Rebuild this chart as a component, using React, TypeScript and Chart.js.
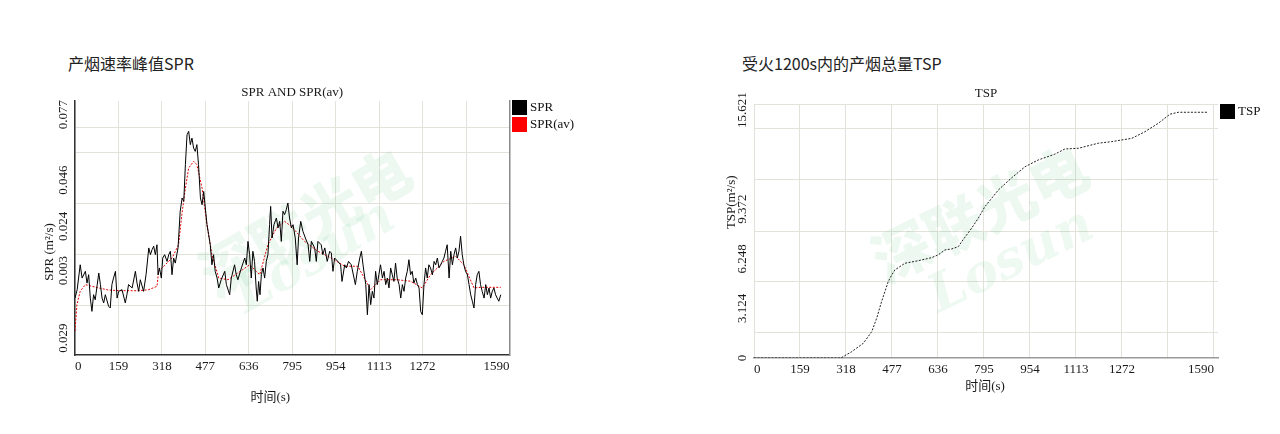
import React, { useEffect, useRef } from "react";
import { Chart, registerables } from "chart.js";

Chart.register(...registerables);

// ---------- shared axis data ----------
const X_TICKS = [0, 159, 318, 477, 636, 795, 954, 1113, 1272, 1431, 1590];
const X_TICK_LABELS = ["0", "159", "318", "477", "636", "795", "954", "1113", "1272", "", "1590"];

// ---------- SPR chart ----------
const SPR_TIME = [
  0, 8, 19, 26, 38, 44, 50, 56, 62, 68, 74, 87, 93, 99, 105, 111, 123, 129, 135, 141, 148, 154, 160, 172, 184, 190, 196,
  209, 221, 227, 233, 239, 251, 260, 270, 276, 282, 288, 294, 300, 304, 309, 316, 321, 328, 337, 343, 349, 355, 361, 367,
  377, 385, 392, 398, 404, 410, 416, 422, 428, 434, 440, 446, 452, 459, 465, 471, 477, 483, 489, 495, 501, 507, 513, 520,
  526, 535, 548, 554, 566, 572, 584, 590, 596, 609, 621, 627, 633, 639, 645, 651, 657, 663, 667, 672, 677, 682, 688, 694,
  700, 706, 712, 716, 721, 728, 737, 743, 749, 755, 761, 767, 773, 779, 785, 792, 798, 806, 813, 818, 826, 834, 843, 853,
  859, 865, 877, 883, 889, 901, 907, 914, 923, 932, 938, 944, 950, 962, 972, 977, 987, 993, 1001, 1011, 1026, 1033, 1042,
  1048, 1054, 1064, 1070, 1076, 1082, 1088, 1094, 1100, 1106, 1112, 1118, 1125, 1131, 1137, 1143, 1149, 1155, 1161, 1167,
  1173, 1179, 1186, 1192, 1198, 1204, 1210, 1216, 1222, 1228, 1234, 1240, 1247, 1253, 1259, 1265, 1271, 1277, 1283, 1289,
  1295, 1301, 1308, 1314, 1320, 1326, 1332, 1338, 1344, 1350, 1356, 1362, 1369, 1375, 1381, 1387, 1393, 1399, 1405, 1411,
  1417, 1423, 1429, 1436, 1442, 1448, 1454, 1460, 1466, 1472, 1478, 1484, 1490, 1497, 1503, 1509, 1515, 1521, 1527, 1533,
  1539, 1545, 1551, 1558,
];
const SPR_VALUES = [
  -0.01, -0.006, 0.0058, -0.0005, 0.0027, -0.0029, 0.0011, -0.01, -0.0163, -0.0084, -0.0108, 0.0019, -0.0036, -0.01,
  -0.0123, -0.0084, -0.0139, -0.0147, -0.0036, -0.0005, 0.0027, -0.01, -0.0068, -0.006, -0.0123, -0.0084, -0.0036,
  -0.0052, 0.0027, -0.0029, -0.0068, -0.0013, -0.0068, 0.0011, 0.0138, 0.0106, 0.013, 0.0146, 0.0106, 0.0153, 0.0011,
  0.0043, -0.0005, 0.009, 0.0106, 0.0074, 0.0106, 0.0122, 0.0011, 0.009, 0.0066, 0.0138, 0.0312, 0.0375, 0.0359, 0.0533,
  0.0675, 0.0691, 0.0628, 0.0659, 0.0612, 0.0596, 0.0628, 0.0533, 0.0375, 0.0343, 0.0406, 0.0327, 0.0248, 0.0201,
  0.0153, 0.0058, 0.0106, 0.0027, -0.0005, -0.0052, -0.0013, 0.0027, -0.0036, -0.0084, -0.0005, 0.0058, 0.0011,
  -0.0013, 0.0043, 0.009, 0.0058, 0.0169, 0.0106, -0.0005, 0.0122, 0.0074, -0.0052, -0.0115, -0.0021, -0.0084, 0.0011,
  0.0043, -0.0005, 0.0074, 0.0106, 0.0248, 0.0335, 0.0185, 0.0248, 0.028, 0.0233, 0.0264, 0.0169, 0.0312, 0.0296,
  0.0319, 0.0351, 0.028, 0.0233, 0.0248, 0.0185, 0.0058, 0.0185, 0.0264, 0.0217, 0.0185, 0.0153, 0.0074, 0.0169,
  0.0138, 0.0074, 0.0169, 0.0153, 0.0106, 0.0138, 0.0074, 0.0122, 0.0114, 0.0027, 0.009, 0.0074, 0.0058, -0.0021,
  0.0058, 0.0043, 0.0074, 0.0058, -0.0036, 0.0027, 0.009, 0.0122, 0.0058, -0.0036, -0.0179, -0.0036, -0.0131, -0.0068,
  -0.01, 0.0027, -0.0036, 0.0011, 0.0058, -0.0005, 0.0027, -0.0036, -0.0005, -0.0052, 0.0043, 0.0011, -0.0021, 0.0066,
  -0.0005, -0.0036, -0.01, -0.0036, -0.0068, -0.0005, 0.0027, 0.0082, 0.0011, 0.0027, -0.0029, -0.0005, -0.0036,
  -0.0052, -0.0163, -0.0179, -0.0036, 0.0043, -0.0005, 0.0058, 0.0043, 0.0011, 0.0074, 0.0058, 0.009, 0.0043, 0.0058,
  0.0074, 0.009, 0.0122, 0.0153, -0.0005, 0.0122, 0.0058, 0.0106, 0.0138, 0.009, 0.0122, 0.0193, 0.0106, 0.0058,
  0.0027, 0.0011, -0.0036, -0.0084, -0.0115, -0.0147, -0.0036, 0.0011, 0.0027, -0.0036, -0.0068, -0.01, -0.0036,
  -0.0084, -0.0052, -0.01, -0.0068, -0.0052, -0.0084, -0.01, -0.0115, -0.0084,
];
const SPR_AV_TIME = [
  0, 7, 19, 38, 62, 87, 123, 172, 233, 270, 300, 306, 330, 355, 379, 391, 404, 416, 434, 446, 465, 483, 501, 526, 560,
  596, 639, 676, 706, 737, 767, 792, 840, 889, 938, 987, 1035, 1082, 1118, 1179, 1228, 1271, 1301, 1350, 1393, 1423,
  1460, 1484, 1558,
];
const SPR_AV_VALUES = [
  -0.0256, -0.0131, -0.0068, -0.0036, -0.0044, -0.0052, -0.0062, -0.0065, -0.0065, -0.006, -0.0044, 0.0027, 0.0058,
  0.009, 0.0153, 0.0296, 0.0422, 0.0517, 0.0549, 0.0533, 0.0422, 0.0248, 0.0106, -0.0005, -0.0013, 0.0019, 0.0058,
  0.0011, 0.0153, 0.0232, 0.0264, 0.024, 0.0169, 0.0122, 0.009, 0.0051, 0.0051, -0.006, -0.0013, -0.0013, -0.002,
  -0.0052, 0.0011, 0.0074, 0.0098, 0.0058, -0.0052, -0.0049, -0.0049,
];
const SPR_Y_TICKS = [-0.029, 0.003, 0.024, 0.046, 0.077];
const SPR_Y_LABELS = ["0.029", "0.003", "0.024", "0.046", "0.077"];
const SPR_Y_GRID = [-0.0133, 0.0109, 0.0351, 0.0593, 0.0711];

// ---------- TSP chart ----------
const TSP_TIME = [
  0, 150, 300, 338, 378, 407, 424, 441, 464, 476, 487, 522, 568, 614, 637, 660, 683, 706, 718, 752, 775, 798, 845, 891,
  937, 983, 1040, 1075, 1121, 1190, 1236, 1306, 1352, 1398, 1438, 1467, 1571,
];
const TSP_VALUES = [
  0, 0, 0, 0.4, 0.93, 1.66, 2.5, 3.55, 4.81, 5.23, 5.55, 5.97, 6.13, 6.32, 6.5, 6.81, 6.87, 7.01, 7.33, 8.17, 8.8, 9.53,
  10.59, 11.36, 12.05, 12.48, 12.84, 13.17, 13.21, 13.53, 13.63, 13.84, 14.26, 14.79, 15.36, 15.48, 15.48,
];
const TSP_Y_TICKS = [0, 3.124, 6.248, 9.372, 15.621];
const TSP_Y_LABELS = ["0", "3.124", "6.248", "9.372", "15.621"];
const TSP_Y_GRID = [1.58, 4.79, 8.0, 11.22, 14.43, 15.97];

const SERIF = "'Liberation Serif', 'DejaVu Serif', 'Noto Sans CJK SC', serif";
const GRID_COLOR = "#e2e2da";
const X_AXIS_H = 30;

const decorPlugin = {
  id: "decor",
  beforeDatasetsDraw(chart: any, _args: any, o: any) {
    const { ctx, chartArea: a } = chart;
    const cx = (a.left + a.right) / 2;
    const cy = (a.top + a.bottom) / 2;
    ctx.save();
    ctx.translate(cx + o.wm[0], cy + o.wm[1]);
    ctx.rotate((o.wmAngle * Math.PI) / 180);
    ctx.fillStyle = "rgba(40,175,90,0.09)";
    ctx.textAlign = "center";
    ctx.textBaseline = "middle";
    ctx.font = "900 58px 'Noto Sans CJK SC'";
    ctx.fillText("深联光电", 0, 0);
    ctx.restore();
    ctx.save();
    ctx.translate(cx + o.wm2[0], cy + o.wm2[1]);
    ctx.rotate((o.wmAngle * Math.PI) / 180);
    ctx.fillStyle = "rgba(40,175,90,0.08)";
    ctx.textAlign = "center";
    ctx.textBaseline = "middle";
    ctx.font = "italic bold 52px 'DejaVu Serif'";
    ctx.fillText("Losun", 0, 0);
    ctx.restore();
  },
  afterDraw(chart: any, _args: any, o: any) {
    const { ctx, chartArea: a, scales } = chart;
    const cx = (a.left + a.right) / 2;
    const cy = (a.top + a.bottom) / 2;
    ctx.save();
    ctx.fillStyle = "#1a1a1a";
    ctx.font = `13px ${SERIF}`;
    ctx.textAlign = "center";
    ctx.textBaseline = "middle";
    // title
    ctx.fillText(o.title, cx, a.top + o.titleDy);
    // y tick labels (rotated)
    const ys = scales.y;
    o.yTicks.forEach((v: number, i: number) => {
      const py = ys.getPixelForValue(v);
      ctx.save();
      ctx.translate(a.left + o.yLabelDx, py);
      ctx.rotate(-Math.PI / 2);
      ctx.fillText(o.yLabels[i], 0, 0);
      ctx.restore();
    });
    // y title
    ctx.save();
    ctx.translate(a.left + o.yTitleDx, cy + o.yTitleDy);
    ctx.rotate(-Math.PI / 2);
    ctx.fillText(o.yTitle, 0, 0);
    ctx.restore();
    // x title
    ctx.fillText(o.xTitle, cx + o.xTitleDx, a.bottom + o.xTitleDy);
    // legend
    ctx.textAlign = "left";
    o.legend.forEach((it: any, i: number) => {
      const bx = a.right + o.legendDx;
      const by = a.top + o.legendDy + i * 17;
      ctx.fillStyle = it.color;
      ctx.fillRect(bx, by, 15, 15);
      ctx.fillStyle = "#111";
      ctx.fillText(it.label, bx + 18, by + 8);
    });
    ctx.restore();
  },
};

type Series = { label: string; time: number[]; values: number[]; color: string; dash: number[] };

type Spec = {
  x: number;
  y: number;
  w: number;
  h: number;
  padding: { left: number; right: number; top: number; bottom: number };
  xMax: number;
  yMin: number;
  yMax: number;
  yGrid: number[];
  series: Series[];
  leftBorder: boolean;
  rightBorder: boolean;
  bottomColor: string;
  decor: any;
};

function ChartBox({ spec }: { spec: Spec }) {
  const ref = useRef<HTMLCanvasElement>(null);
  useEffect(() => {
    const chart = new Chart(ref.current as HTMLCanvasElement, {
      type: "line",
      data: {
        datasets: spec.series.map((s) => ({
          label: s.label,
          data: s.time.map((t, i) => ({ x: t, y: s.values[i] })),
          borderColor: s.color,
          borderWidth: 1,
          borderDash: s.dash,
          pointRadius: 0,
          tension: 0,
          fill: false,
        })),
      },
      options: {
        responsive: false,
        animation: false,
        devicePixelRatio: 1,
        layout: { padding: spec.padding },
        plugins: {
          legend: { display: false },
          title: { display: false },
          tooltip: { enabled: false },
          decor: spec.decor,
        } as any,
        scales: {
          x: {
            type: "linear",
            min: 0,
            max: spec.xMax,
            afterFit: (s: any) => {
              s.height = X_AXIS_H;
            },
            afterBuildTicks: (s: any) => {
              s.ticks = X_TICKS.map((v) => ({ value: v }));
            },
            ticks: {
              autoSkip: false,
              maxRotation: 0,
              align: "inner",
              padding: 4,
              color: "#1a1a1a",
              font: { family: SERIF, size: 13 },
              callback: (_v: any, i: number) => X_TICK_LABELS[i],
            },
            grid: { color: GRID_COLOR, drawTicks: false },
            border: { color: spec.bottomColor, width: 1.5 },
          },
          y: {
            type: "linear",
            min: spec.yMin,
            max: spec.yMax,
            afterFit: (s: any) => {
              s.width = 0;
            },
            ticks: { display: false },
            grid: { display: false, drawTicks: false },
            border: { display: spec.leftBorder, color: "#333", width: 1.5 },
          },
          yGrid: {
            type: "linear",
            position: "right",
            min: spec.yMin,
            max: spec.yMax,
            afterFit: (s: any) => {
              s.width = 0;
            },
            afterBuildTicks: (s: any) => {
              s.ticks = spec.yGrid.map((v) => ({ value: v }));
            },
            ticks: { display: false },
            grid: { color: GRID_COLOR, drawTicks: false },
            border: { display: spec.rightBorder, color: "#8a8a8a", width: 1.5 },
          },
        } as any,
      },
      plugins: [decorPlugin as any],
    });
    return () => chart.destroy();
  }, []);
  return (
    <canvas
      ref={ref}
      width={spec.w}
      height={spec.h}
      style={{ position: "absolute", left: spec.x, top: spec.y, width: spec.w, height: spec.h }}
    />
  );
}

const LEFT_SPEC: Spec = {
  x: 30,
  y: 72,
  w: 570,
  h: 338,
  padding: { left: 45, right: 90.5, top: 29, bottom: 55 - X_AXIS_H },
  xMax: 1590,
  yMin: -0.037,
  yMax: 0.0835,
  yGrid: SPR_Y_GRID,
  series: [
    { label: "SPR", time: SPR_TIME, values: SPR_VALUES, color: "#000000", dash: [] },
    { label: "SPR(av)", time: SPR_AV_TIME, values: SPR_AV_VALUES, color: "#e00000", dash: [2, 1.5] },
  ],
  leftBorder: true,
  rightBorder: true,
  bottomColor: "#333",
  decor: {
    title: "SPR AND SPR(av)",
    titleDy: -8,
    yTicks: SPR_Y_TICKS,
    yLabels: SPR_Y_LABELS,
    yLabelDx: -11,
    yTitle: "SPR (m²/s)",
    yTitleDx: -25,
    yTitleDy: 24,
    xTitle: "时间(s)",
    xTitleDx: -22,
    xTitleDy: 43,
    legend: [
      { label: "SPR", color: "#000000" },
      { label: "SPR(av)", color: "#ff0000" },
    ],
    legendDx: 2.5,
    legendDy: -1,
    wm: [13, -6],
    wm2: [23, 30],
    wmAngle: -30,
  },
};

const RIGHT_SPEC: Spec = {
  x: 700,
  y: 72,
  w: 575,
  h: 338,
  padding: { left: 54, right: 57, top: 32.5, bottom: 52 - X_AXIS_H },
  xMax: 1604,
  yMin: 0,
  yMax: 15.97,
  yGrid: TSP_Y_GRID,
  series: [{ label: "TSP", time: TSP_TIME, values: TSP_VALUES, color: "#222222", dash: [2, 1.5] }],
  leftBorder: false,
  rightBorder: false,
  bottomColor: "#9a9a9a",
  decor: {
    title: "TSP",
    titleDy: -10.5,
    yTicks: TSP_Y_TICKS,
    yLabels: TSP_Y_LABELS,
    yLabelDx: -11,
    yTitle: "TSP(m²/s)",
    yTitleDx: -22,
    yTitleDy: -29,
    xTitle: "时间(s)",
    xTitleDx: -1,
    xTitleDy: 29,
    legend: [{ label: "TSP", color: "#000000" }],
    legendDx: 2,
    legendDy: -0.5,
    wm: [-6, -18],
    wm2: [26, 31],
    wmAngle: -26,
  },
};

const headerStyle: React.CSSProperties = {
  position: "absolute",
  top: 53,
  fontFamily: "'Noto Sans CJK SC', 'Noto Sans', sans-serif",
  fontSize: 16,
  lineHeight: "20px",
  color: "#222",
  whiteSpace: "nowrap",
};

export default function App() {
  return (
    <div style={{ position: "absolute", left: 0, top: 0, width: 1280, height: 434, background: "#fff" }}>
      <div style={{ ...headerStyle, left: 68 }}>产烟速率峰值SPR</div>
      <div style={{ ...headerStyle, left: 742 }}>受火1200s内的产烟总量TSP</div>
      <ChartBox spec={LEFT_SPEC} />
      <ChartBox spec={RIGHT_SPEC} />
    </div>
  );
}
